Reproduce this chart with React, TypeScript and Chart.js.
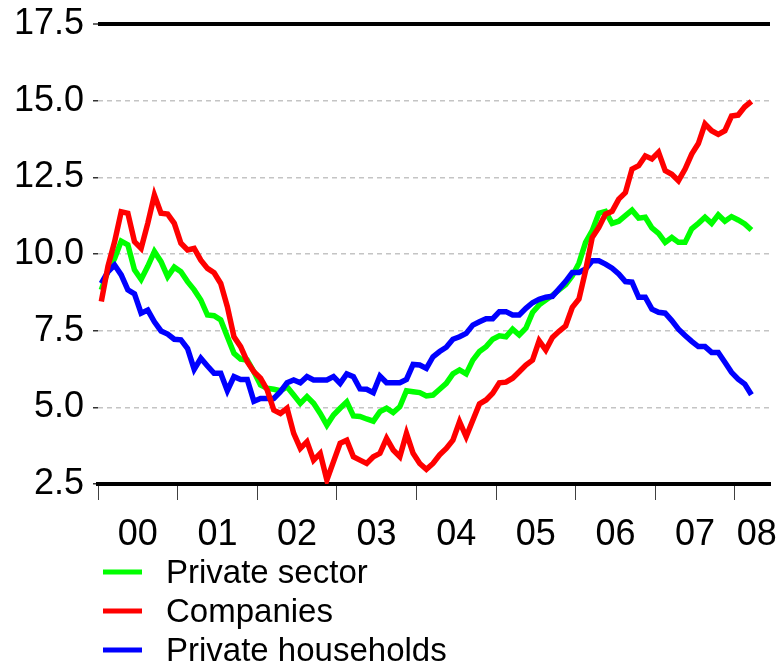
import React, { useEffect, useRef } from 'react';
import { Chart, registerables } from 'chart.js';

Chart.register(...registerables);

// ---- Data (monthly, Jan 2000 .. Mar 2008) ----
const yearLabels = ['00', '01', '02', '03', '04', '05', '06', '07', '08'];
const seriesNames = ['Private sector', 'Companies', 'Private households'];
const seriesColors = ['#00ff00', '#ff0000', '#0000ff'];

const privateSector = [
  8.83, 9.45, 9.85, 10.42, 10.3, 9.48, 9.17, 9.6, 10.08, 9.75, 9.26, 9.57,
  9.42, 9.1, 8.83, 8.5, 8.01, 7.99, 7.85, 7.3, 6.76, 6.57, 6.54, 6.16,
  5.73, 5.62, 5.59, 5.54, 5.67, 5.4, 5.13, 5.35, 5.13, 4.8, 4.42, 4.75,
  4.97, 5.18, 4.72, 4.7, 4.62, 4.55, 4.86, 4.97, 4.83, 5.02, 5.54, 5.51,
  5.48, 5.37, 5.4, 5.59, 5.78, 6.09, 6.22, 6.09, 6.54, 6.82, 6.98, 7.22,
  7.33, 7.3, 7.55, 7.36, 7.58, 8.09, 8.34, 8.5, 8.65, 8.83, 9.0, 9.29,
  9.7, 10.38, 10.76, 11.33, 11.39, 11.0, 11.07, 11.25, 11.43, 11.17, 11.2, 10.85,
  10.67, 10.38, 10.54, 10.38, 10.38, 10.82, 11.0, 11.2, 11.0, 11.28, 11.07, 11.22,
  11.11, 10.98, 10.78,
];

const companies = [
  8.45, 9.6, 10.4, 11.38, 11.33, 10.4, 10.18, 11.0, 11.92, 11.33, 11.3, 11.0,
  10.35, 10.13, 10.18, 9.8, 9.53, 9.39, 9.04, 8.28, 7.3, 6.98, 6.49, 6.16,
  5.95, 5.57, 4.91, 4.8, 4.97, 4.15, 3.66, 3.88, 3.28, 3.5, 2.63, 3.23,
  3.83, 3.93, 3.39, 3.28, 3.17, 3.39, 3.5, 3.99, 3.61, 3.39, 4.15, 3.5,
  3.17, 2.98, 3.17, 3.45, 3.66, 3.93, 4.53, 4.04, 4.58, 5.11, 5.24, 5.46,
  5.8, 5.82, 5.95, 6.16, 6.38, 6.54, 7.17, 6.87, 7.28, 7.48, 7.66, 8.26,
  8.53, 9.46, 10.54, 10.87, 11.3, 11.39, 11.79, 12.0, 12.77, 12.88, 13.2, 13.1,
  13.32, 12.72, 12.6, 12.39, 12.77, 13.26, 13.6, 14.24, 14.02, 13.9, 14.02, 14.5,
  14.53, 14.8, 14.98,
];

const households = [
  9.04, 9.42, 9.64, 9.32, 8.83, 8.7, 8.07, 8.17, 7.79, 7.49, 7.39, 7.22,
  7.2, 6.92, 6.24, 6.6, 6.35, 6.11, 6.11, 5.54, 6.0, 5.91, 5.91, 5.2,
  5.29, 5.29, 5.29, 5.51, 5.8, 5.89, 5.8, 6.0, 5.89, 5.89, 5.89, 6.0,
  5.78, 6.09, 6.0, 5.6, 5.59, 5.48, 6.02, 5.8, 5.8, 5.8, 5.91, 6.4,
  6.38, 6.27, 6.65, 6.82, 6.96, 7.22, 7.3, 7.41, 7.68, 7.79, 7.89, 7.89,
  8.12, 8.12, 8.01, 8.01, 8.23, 8.41, 8.52, 8.59, 8.62, 8.86, 9.11, 9.4,
  9.4, 9.51, 9.78, 9.78, 9.67, 9.54, 9.35, 9.1, 9.08, 8.59, 8.59, 8.2,
  8.1, 8.07, 7.83, 7.55, 7.34, 7.15, 6.98, 6.98, 6.79, 6.79, 6.47, 6.14,
  5.92, 5.76, 5.41,
];

const yMin = 2.5;
const yMax = 17.5;
const yStep = 2.5;
const monthsPerYear = 12;
const xMax = 101.3; // axis extent in months from Jan 2000

const FONT = "'Liberation Sans', Arial, Helvetica, sans-serif";

const toPoints = (arr: number[]) => arr.map((v, i) => ({ x: i + 0.5, y: v }));

const stackedLegend = {
  id: 'stackedLegend',
  afterDraw(chart: any) {
    const ctx = chart.ctx;
    const left = chart.chartArea.left;
    const top = chart.chartArea.bottom + 88;
    ctx.save();
    chart.data.datasets.forEach((ds: any, i: number) => {
      const y = top + i * 39;
      ctx.strokeStyle = ds.borderColor;
      ctx.lineWidth = 5;
      ctx.lineCap = 'butt';
      ctx.beginPath();
      ctx.moveTo(left + 5, y);
      ctx.lineTo(left + 44, y);
      ctx.stroke();
      ctx.fillStyle = '#000';
      ctx.font = `33px ${FONT}`;
      ctx.textBaseline = 'middle';
      ctx.textAlign = 'left';
      ctx.fillText(ds.label, left + 68, y + 2);
    });
    ctx.restore();
  },
};

export default function App() {
  const ref = useRef<HTMLCanvasElement | null>(null);

  useEffect(() => {
    if (!ref.current) return;
    const seriesData = [privateSector, companies, households];
    const chart = new Chart(ref.current, {
      type: 'line',
      data: {
        datasets: seriesNames.map((name, i) => ({
          label: name,
          data: toPoints(seriesData[i]),
          borderColor: seriesColors[i],
          backgroundColor: seriesColors[i],
          borderWidth: 5.5,
          pointRadius: 0,
          tension: 0,
          fill: false,
          order: i === 1 ? 0 : i === 2 ? 1 : 2,
        })),
      },
      options: {
        responsive: false,
        devicePixelRatio: 1,
        animation: false,
        layout: { padding: { left: 0, right: 6, top: 24, bottom: 0 } },
        plugins: {
          legend: { display: false },
          tooltip: { enabled: false },
        },
        scales: {
          x: {
            type: 'linear',
            min: 0,
            max: xMax,
            afterBuildTicks: (scale: any) => {
              const ticks: { value: number }[] = [];
              yearLabels.forEach((_, i) => ticks.push({ value: i * monthsPerYear }));
              yearLabels.forEach((_, i) =>
                ticks.push({ value: Math.min(i * monthsPerYear + 6, xMax - 2) })
              );
              ticks.sort((a, b) => a.value - b.value);
              scale.ticks = ticks;
            },
            afterFit: (scale: any) => {
              scale.height = 181;
              scale.paddingLeft = 0;
              scale.paddingRight = 0;
            },
            grid: {
              drawOnChartArea: false,
              drawTicks: true,
              tickLength: 16,
              tickWidth: 1,
              tickColor: (ctx: any) =>
                ctx.tick && ctx.tick.value % monthsPerYear === 0 ? '#404040' : 'rgba(0,0,0,0)',
            },
            border: { display: true, color: '#000', width: 4 },
            ticks: {
              autoSkip: false,
              maxRotation: 0,
              minRotation: 0,
              padding: 13,
              color: '#000',
              font: { family: FONT, size: 36 },
              callback: (value: any) => {
                const v = Number(value);
                if (v % monthsPerYear === 0) return '';
                return yearLabels[Math.floor(v / monthsPerYear)];
              },
            },
          },
          y: {
            min: yMin,
            max: yMax,
            afterFit: (scale: any) => {
              scale.width = 98;
              scale.paddingTop = 0;
              scale.paddingBottom = 0;
            },
            grid: {
              drawTicks: true,
              tickLength: 5,
              tickWidth: 1.5,
              tickColor: '#333',
              color: (ctx: any) => {
                const v = ctx.tick ? ctx.tick.value : 0;
                if (Math.abs(v - yMax) < 1e-6) return '#000';
                if (Math.abs(v - yMin) < 1e-6) return 'rgba(0,0,0,0)';
                return '#c4c4c4';
              },
              lineWidth: (ctx: any) => {
                const v = ctx.tick ? ctx.tick.value : 0;
                return Math.abs(v - yMax) < 1e-6 ? 4 : 1.5;
              },
            },
            border: {
              display: false,
              dash: (ctx: any) => {
                const v = ctx.tick ? ctx.tick.value : 0;
                return Math.abs(v - yMax) < 1e-6 ? [] : [5, 4];
              },
            },
            ticks: {
              stepSize: yStep,
              padding: 9,
              color: '#000',
              font: { family: FONT, size: 36 },
              callback: (value: any) => Number(value).toFixed(1),
            },
          },
        },
      },
      plugins: [stackedLegend],
    } as any);
    return () => chart.destroy();
  }, []);

  return (
    <div style={{ position: 'absolute', left: 0, top: 0, width: 776, height: 665, background: '#fff' }}>
      <canvas ref={ref} width={776} height={665} style={{ width: 776, height: 665, display: 'block' }} />
    </div>
  );
}
